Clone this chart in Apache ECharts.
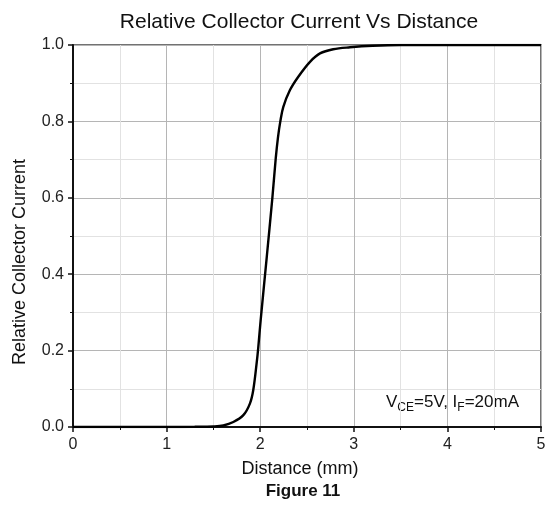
<!DOCTYPE html>
<html><head><meta charset="utf-8">
<script src="https://cdn.jsdelivr.net/npm/echarts@6/dist/echarts.min.js"></script>
<style>html,body{margin:0;padding:0;background:#fff}#c{width:549px;height:512px}</style>
</head><body><div id="c"></div>
<script>
const distance = [0, 0.5, 1.0, 1.3, 1.5, 1.606, 1.713, 1.82, 1.891, 1.926, 1.962, 1.98, 2.005, 2.07, 2.13, 2.166, 2.19, 2.215, 2.247, 2.318, 2.407, 2.532, 2.639, 2.78, 2.96, 3.2, 3.5, 4.0, 5.0];
const current  = [0, 0, 0, 0.0005, 0.0015, 0.004, 0.013, 0.031, 0.062, 0.097, 0.167, 0.21, 0.28, 0.445, 0.6, 0.703, 0.758, 0.8, 0.838, 0.882, 0.917, 0.956, 0.978, 0.989, 0.994, 0.998, 1.0, 1.0, 1.0];
const xTicks = [0, 1, 2, 3, 4, 5];
const yTicks = [0.0, 0.2, 0.4, 0.6, 0.8, 1.0];

const ff = '"Liberation Sans", Arial, sans-serif';
const chart = echarts.init(document.getElementById('c'));
chart.setOption({
  animation: false,
  title: {text: 'Relative Collector Current Vs Distance', left: 294, top: 7, textAlign: 'center',
    textStyle: {fontFamily: ff, fontSize: 21, fontWeight: 'normal', color: '#111'}},
  grid: {left: 73, right: 8, top: 45, bottom: 85, show: true, borderColor: '#444', borderWidth: 1.5},
  xAxis: {type: 'value', min: 0, max: 5, interval: 1,
    axisLine: {lineStyle: {color: '#111', width: 2}},
    axisTick: {inside: false, length: 5, lineStyle: {color: '#111', width: 1.5}},
    minorTick: {show: true, splitNumber: 2, length: 3, lineStyle: {color: '#111'}},
    axisLabel: {fontFamily: ff, fontSize: 16, color: '#222', margin: 10, formatter: v => xTicks.includes(v) ? String(v) : ''},
    splitLine: {show: true, lineStyle: {color: '#b5b5b5', width: 1}},
    minorSplitLine: {show: true, lineStyle: {color: '#e2e2e2', width: 1}}
  },
  yAxis: {type: 'value', min: 0, max: 1, interval: 0.2,
    axisLine: {show: true, lineStyle: {color: '#111', width: 2}},
    axisTick: {show: true, inside: false, length: 5, lineStyle: {color: '#111', width: 1.5}},
    minorTick: {show: true, splitNumber: 2, length: 3, lineStyle: {color: '#111'}},
    axisLabel: {fontFamily: ff, fontSize: 16, color: '#222', margin: 9, formatter: v => yTicks.some(t => Math.abs(t - v) < 1e-9) ? v.toFixed(1) : ''},
    splitLine: {show: true, lineStyle: {color: '#b5b5b5', width: 1}},
    minorSplitLine: {show: true, lineStyle: {color: '#e2e2e2', width: 1}}
  },
  graphic: [
    {type: 'text', x: 20, y: 262, rotation: Math.PI / 2, style: {
      text: 'Relative Collector Current', fontFamily: ff, fontSize: 18, fill: '#111', textAlign: 'center', textVerticalAlign: 'middle'}},
    {type: 'text', x: 300, y: 469, style: {
      text: 'Distance (mm)', fontFamily: ff, fontSize: 18, fill: '#111', textAlign: 'center', textVerticalAlign: 'middle'}},
    {type: 'text', x: 303, y: 491, style: {
      text: 'Figure 11', fontFamily: ff, fontSize: 17, fontWeight: 'bold', fill: '#111', textAlign: 'center', textVerticalAlign: 'middle'}},
    {type: 'text', left: 386, top: 392, style: {
      text: '{n|V}{s|CE}{n|=5V, I}{s|F}{n|=20mA}',
      rich: {n: {fontFamily: ff, fontSize: 17, fill: '#111', lineHeight: 20, verticalAlign: 'top'},
             s: {fontFamily: ff, fontSize: 12, fill: '#111', lineHeight: 14, padding: [10, 0, 0, 0], verticalAlign: 'bottom'}}}}
  ],
  series: [{type: 'line', data: distance.map((d, i) => [d, current[i]]), smooth: 0.35,
    showSymbol: false, lineStyle: {color: '#000', width: 2.4}}]
});
</script></body></html>
